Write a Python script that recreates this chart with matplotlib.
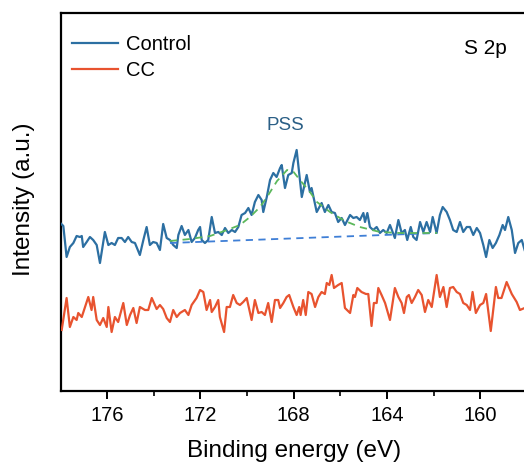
import matplotlib
matplotlib.use("Agg")
import matplotlib.pyplot as plt
from matplotlib.ticker import MultipleLocator, NullLocator

plt.rcParams['font.family'] = ['Liberation Sans', 'DejaVu Sans']

# ---------------- data (binding energy in eV, intensity in a.u.) ----------------
control_energy = [178.00, 177.87, 177.73, 177.59, 177.44, 177.30, 177.16, 177.08, 177.02, 176.87,
                  176.73, 176.59, 176.44, 176.30, 176.09, 175.94, 175.80, 175.66, 175.52, 175.37,
                  175.23, 175.09, 174.94, 174.80, 174.59, 174.44, 174.30, 174.16, 174.02, 173.87,
                  173.73, 173.59, 173.44, 173.30, 173.16, 173.01, 172.94, 172.80, 172.66, 172.51,
                  172.37, 172.23, 172.09, 172.01, 171.94, 171.80, 171.66, 171.51, 171.37, 171.23,
                  171.08, 170.94, 170.80, 170.65, 170.51, 170.37, 170.23, 170.08, 169.94, 169.80,
                  169.66, 169.51, 169.37, 169.30, 169.15, 169.01, 168.87, 168.73, 168.58, 168.51,
                  168.37, 168.23, 168.08, 168.01, 167.87, 167.65, 167.44, 167.30, 167.23, 167.01,
                  166.80, 166.66, 166.51, 166.37, 166.23, 166.09, 165.94, 165.80, 165.58, 165.44,
                  165.30, 165.16, 165.01, 164.94, 164.84, 164.73, 164.59, 164.44, 164.30, 164.16,
                  164.01, 163.87, 163.66, 163.51, 163.37, 163.23, 163.13, 162.98, 162.87, 162.73,
                  162.58, 162.44, 162.30, 162.15, 162.04, 161.87, 161.73, 161.61, 161.44, 161.30,
                  161.16, 161.01, 160.87, 160.73, 160.58, 160.44, 160.30, 160.15, 160.01, 159.87,
                  159.75, 159.61, 159.47, 159.33, 159.18, 159.04, 158.94, 158.80, 158.65, 158.51,
                  158.37, 158.22, 158.10]
control_intensity = [168, 165, 134, 144, 148, 155, 154, 155, 144, 149,
                     154, 151, 146, 128, 159, 146, 148, 146, 153, 153,
                     149, 154, 149, 148, 136, 151, 164, 146, 149, 148,
                     141, 167, 153, 151, 146, 143, 156, 165, 156, 161,
                     149, 153, 161, 164, 151, 148, 151, 174, 158, 159,
                     156, 163, 158, 161, 159, 164, 176, 178, 183, 176,
                     189, 196, 191, 179, 194, 211, 218, 214, 223, 226,
                     203, 216, 218, 228, 241, 194, 216, 199, 203, 179,
                     188, 179, 186, 179, 178, 169, 173, 166, 176, 173,
                     174, 171, 178, 169, 178, 164, 161, 164, 158, 161,
                     158, 166, 153, 171, 158, 161, 151, 164, 154, 151,
                     169, 159, 169, 159, 174, 158, 176, 184, 179, 171,
                     161, 159, 169, 159, 164, 164, 156, 163, 158, 146,
                     134, 151, 143, 148, 156, 166, 161, 174, 161, 138,
                     148, 151, 141]

cc_energy = [177.94, 177.73, 177.59, 177.44, 177.30, 177.23, 177.08, 176.94, 176.80, 176.66,
             176.59, 176.44, 176.30, 176.16, 176.01, 175.94, 175.80, 175.66, 175.52, 175.30,
             175.15, 175.01, 174.87, 174.73, 174.59, 174.37, 174.23, 174.08, 173.87, 173.73,
             173.59, 173.44, 173.30, 173.16, 173.01, 172.87, 172.66, 172.51, 172.37, 172.16,
             172.01, 171.87, 171.73, 171.58, 171.51, 171.37, 171.23, 171.16, 170.98, 170.87,
             170.73, 170.59, 170.44, 170.30, 170.16, 170.01, 169.80, 169.66, 169.51, 169.37,
             169.23, 169.09, 168.94, 168.80, 168.66, 168.58, 168.44, 168.30, 168.19, 168.01,
             167.87, 167.76, 167.70, 167.59, 167.48, 167.37, 167.23, 167.08, 166.94, 166.80,
             166.66, 166.58, 166.47, 166.37, 166.27, 166.09, 165.94, 165.80, 165.58, 165.44,
             165.37, 165.27, 165.09, 164.90, 164.80, 164.66, 164.56, 164.44, 164.37, 164.23,
             164.08, 163.87, 163.66, 163.51, 163.37, 163.27, 163.15, 163.06, 162.94, 162.80,
             162.66, 162.51, 162.37, 162.23, 162.08, 161.87, 161.73, 161.58, 161.44, 161.30,
             161.16, 161.01, 160.87, 160.73, 160.58, 160.44, 160.33, 160.19, 160.01, 159.87,
             159.75, 159.55, 159.33, 159.23, 159.09, 158.87, 158.65, 158.44, 158.30, 158.10]
cc_intensity = [61, 93, 64, 74, 71, 78, 74, 84, 94, 81,
                94, 71, 66, 73, 64, 84, 59, 74, 69, 88,
                66, 76, 83, 68, 84, 81, 81, 93, 82, 86,
                82, 73, 69, 81, 74, 78, 81, 76, 86, 93,
                101, 99, 81, 91, 79, 84, 91, 74, 59, 84,
                84, 96, 88, 86, 89, 93, 71, 91, 78, 79,
                76, 88, 69, 91, 91, 83, 88, 94, 96, 84,
                76, 84, 76, 91, 76, 99, 97, 84, 94, 99,
                97, 108, 106, 116, 103, 106, 108, 83, 78, 96,
                94, 103, 99, 97, 97, 65, 88, 88, 103, 96,
                88, 71, 103, 94, 88, 78, 94, 96, 88, 94,
                101, 96, 79, 91, 84, 116, 94, 104, 84, 103,
                104, 99, 97, 88, 86, 81, 99, 78, 86, 88,
                97, 60, 104, 93, 93, 109, 97, 89, 81, 83]

baseline_energy = [173.30, 161.85]
baseline_intensity = [148, 158]

fit_energy = [173.30, 172.44, 171.58, 170.85, 170.30, 169.87, 169.44, 169.14, 168.71, 168.28,
              168.00, 167.73, 167.30, 167.00, 166.44, 165.80, 165.16, 164.30, 163.44, 161.85]
fit_intensity = [150, 152, 155, 161, 166, 174, 184, 194, 210, 221,
                 219, 211, 199, 189, 179, 170, 164, 159, 158, 158]

series_labels = ["Control", "CC"]
x_ticks = [176, 172, 168, 164, 160]

# ---------------- figure ----------------
W, H = 524, 469
fig = plt.figure(figsize=(W / 100, H / 100), dpi=100)
ax = fig.add_axes([61 / W, (H - 391) / H, (526 - 61) / W, 378 / H])

blue = '#2c6fa2'
red = '#e8532f'

ax.plot(control_energy, control_intensity, color=blue, lw=1.6, label=series_labels[0], zorder=3)
ax.plot(cc_energy, cc_intensity, color=red, lw=1.6, label=series_labels[1], zorder=3)
ax.plot(baseline_energy, baseline_intensity, color='#3f7fd6', lw=1.3, ls=(0, (4, 3)), zorder=4)
ax.plot(fit_energy, fit_intensity, color='#5cb85c', lw=1.3, ls=(0, (4, 3)), zorder=4)

ax.set_xlim(177.97, 158.04)
ax.set_ylim(0, 378)
ax.set_xticks(x_ticks)
ax.xaxis.set_minor_locator(MultipleLocator(2))
ax.yaxis.set_major_locator(NullLocator())
ax.tick_params(axis='x', which='major', direction='out', length=6, width=1.4, labelsize=14.5, pad=5)
ax.tick_params(axis='x', which='minor', direction='out', length=3.5, width=1.2)
for s in ax.spines.values():
    s.set_linewidth(1.6)
ax.spines['right'].set_visible(False)

leg = ax.legend(loc='upper left', bbox_to_anchor=((72 - 61) / 465, (391 - 35) / 378),
                frameon=False, fontsize=14.5, handlelength=2.3, handletextpad=0.4,
                labelspacing=0.35, borderaxespad=0.0, borderpad=0.0)
for l in leg.get_lines():
    l.set_linewidth(1.6)

fig.text(285 / W, 1 - 126 / H, "PSS", ha='center', va='center', fontsize=13.5, color='#2b5f86')
fig.text(485 / W, 1 - 48 / H, "S 2p", ha='center', va='center', fontsize=15, color='black')
fig.text(294 / W, 1 - 451 / H, "Binding energy (eV)", ha='center', va='center', fontsize=17.5)
fig.text(24 / W, 1 - 199 / H, "Intensity (a.u.)", ha='center', va='center', fontsize=17.5,
         rotation=90)

fig.savefig("out.png", dpi=100)
